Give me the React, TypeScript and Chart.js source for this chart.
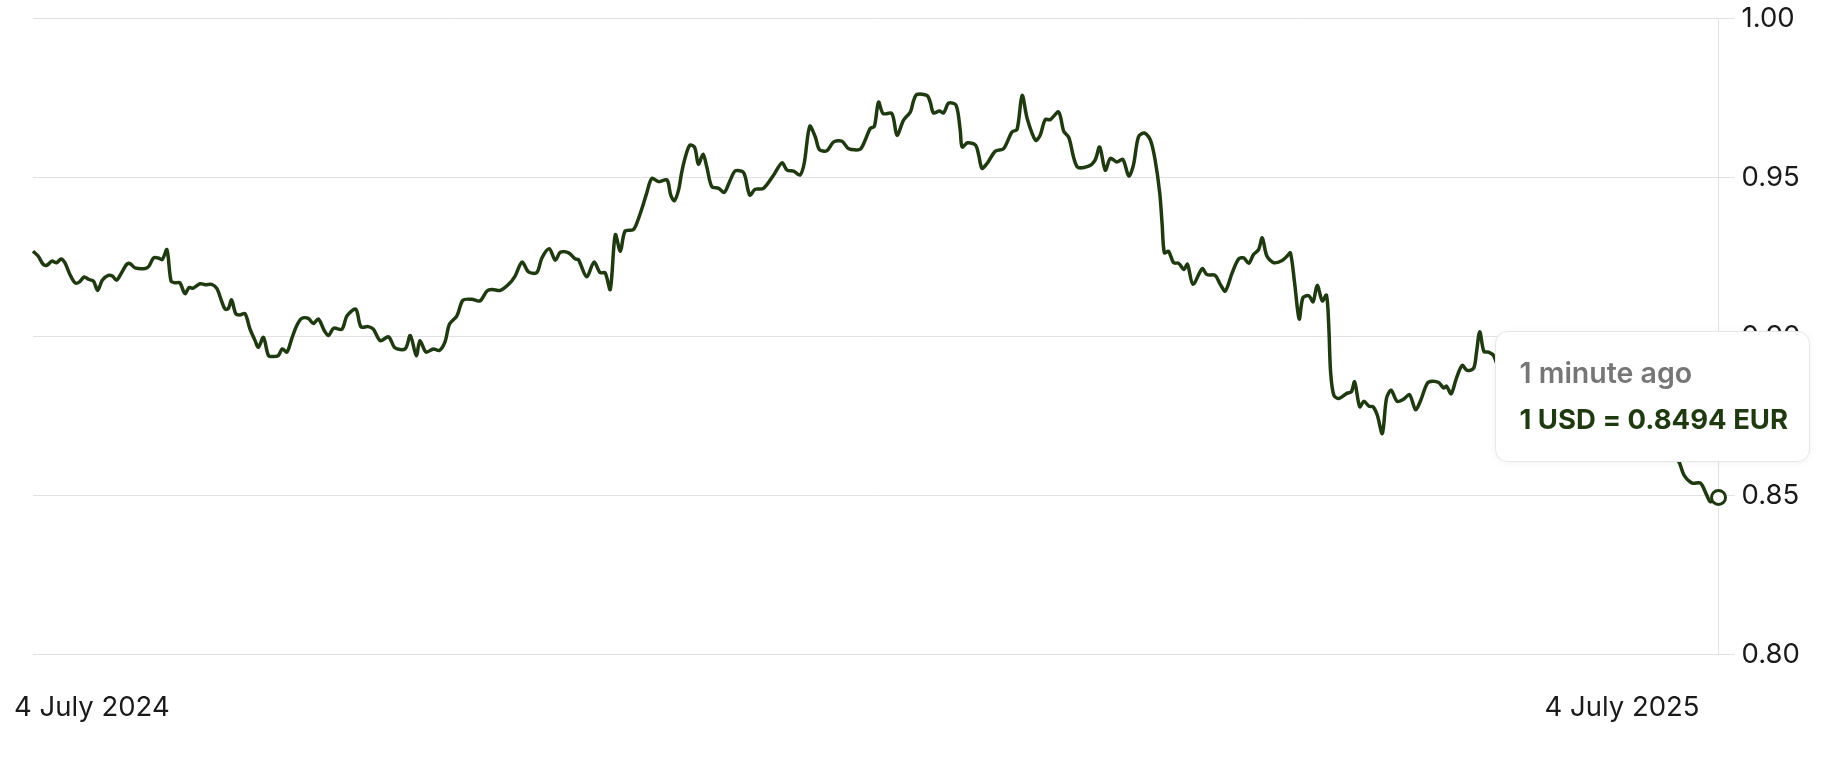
import React, { useEffect, useRef } from "react";
import { Chart, registerables } from "chart.js";

Chart.register(...registerables);

// Days since 4 July 2024
const dayOffsets = [
  0, 1.1, 2.2, 3.0, 4.1, 5.1, 6.1, 6.9, 8.0, 9.1, 10.0, 11.1, 12.0, 13.1, 14.0, 15.0, 16.3, 17.2, 18.1, 19.2,
  20.3, 21.0, 22.1, 24.3, 25.1, 26.1, 27.1, 28.0, 29.0, 29.9, 30.8, 31.8, 32.9, 33.8, 34.7, 36.2, 37.3, 38.7, 39.8, 40.9,
  41.6, 42.3, 43.0, 43.9, 44.8, 45.9, 47.0, 48.1, 48.8, 49.9, 51.0, 52.1, 53.1, 54.0, 55.0, 56.0, 57.1, 58.2, 59.6, 60.7,
  61.8, 63.1, 64.0, 65.1, 66.9, 68.0, 69.9, 71.0, 72.6, 73.7, 75.2, 77.0, 78.4, 80.6, 81.7, 83.0, 83.8, 85.1, 86.7, 88.0,
  89.2, 90.2, 91.8, 93.1, 95.0, 96.8, 98.3, 99.4, 101.2, 103.0, 104.4, 105.9, 107.3, 109.1, 110.2, 111.8, 113.1, 114.2, 116.0, 117.4,
  118.1, 119.9, 121.5, 122.8, 123.9, 125.0, 126.1, 127.2, 128.2, 130.0, 130.9, 131.9, 132.9, 134.0, 135.5, 137.3, 138.1, 138.9, 139.8, 140.5,
  141.5, 142.3, 143.3, 144.1, 145.1, 145.9, 147.0, 148.5, 149.7, 151.0, 152.1, 153.9, 155.2, 156.4, 158.2, 160.4, 162.2, 163.3, 164.7, 166.1,
  167.0, 168.2, 169.4, 170.3, 171.9, 173.4, 175.2, 176.6, 179.1, 180.2, 181.3, 182.2, 183.1, 184.1, 186.0, 187.1, 188.5, 190.0, 190.7, 191.4,
  193.6, 194.3, 195.0, 196.3, 197.2, 198.3, 199.9, 200.8, 201.2, 202.4, 204.1, 204.8, 205.5, 206.6, 208.4, 210.2, 212.0, 213.1, 214.2, 215.3,
  217.1, 218.1, 219.2, 220.3, 222.1, 223.2, 224.3, 226.1, 228.6, 230.0, 231.0, 232.2, 233.3, 234.7, 236.0, 237.3, 238.3, 239.4, 240.7, 242.0,
  243.0, 244.0, 244.5, 245.0, 245.9, 247.0, 248.1, 249.2, 250.0, 251.2, 253.2, 254.2, 256.0, 257.1, 258.2, 259.7, 261.1, 262.2, 263.3, 264.3,
  265.4, 266.2, 267.2, 268.7, 270.5, 271.6, 272.3, 273.2, 274.2, 275.0, 276.3, 277.2, 278.1, 279.2, 280.1, 280.6, 281.0, 281.7, 282.8, 284.6,
  285.5, 286.2, 287.3, 288.2, 289.3, 290.2, 291.1, 292.2, 293.1, 294.1, 295.4, 296.8, 298.1, 299.4, 300.5, 301.9, 303.0, 304.4, 305.5, 306.1,
  307.1, 308.2, 309.5, 310.6, 312.0, 312.6, 313.3, 314.2, 315.2, 316.3, 317.8, 319.5, 321.2, 323.2, 325.4, 327.5, 329.7, 331.9, 334.0, 336.2,
  338.4, 340.5, 342.7, 344.9, 347.0, 349.2, 351.4, 353.5, 355.0, 356.4, 357.5, 359.3, 361.1, 362.4, 363.3, 365.0,
];

// 1 USD in EUR
const rates = [
  0.9268, 0.9253, 0.9227, 0.9224, 0.9237, 0.9232, 0.9244, 0.9232, 0.9195, 0.9169, 0.9171, 0.9187, 0.918, 0.9174, 0.9145, 0.9177, 0.9192, 0.919, 0.9177, 0.9201,
  0.9227, 0.9229, 0.9216, 0.9214, 0.9221, 0.9247, 0.9247, 0.9242, 0.9273, 0.9174, 0.9169, 0.9169, 0.9135, 0.9154, 0.9152, 0.9166, 0.9163, 0.9164, 0.9151, 0.9109,
  0.9086, 0.9088, 0.9115, 0.9072, 0.9068, 0.9072, 0.9023, 0.8987, 0.8966, 0.8997, 0.894, 0.8937, 0.894, 0.8961, 0.8951, 0.8992, 0.9034, 0.9057, 0.9057, 0.9041,
  0.9055, 0.9018, 0.9003, 0.9026, 0.9023, 0.9065, 0.9086, 0.9031, 0.9031, 0.9023, 0.8987, 0.8999, 0.8964, 0.8961, 0.9003, 0.894, 0.8987, 0.8951, 0.8961, 0.8956,
  0.8982, 0.9039, 0.9065, 0.9114, 0.9117, 0.9112, 0.9143, 0.9148, 0.9145, 0.9164, 0.919, 0.9234, 0.9203, 0.9201, 0.9247, 0.9276, 0.924, 0.9265, 0.9263, 0.9244,
  0.9242, 0.9188, 0.9234, 0.9201, 0.92, 0.9148, 0.932, 0.9268, 0.9331, 0.9336, 0.9362, 0.9404, 0.9451, 0.9497, 0.9487, 0.9492, 0.9445, 0.9427, 0.9461, 0.9518,
  0.9576, 0.9602, 0.9594, 0.9542, 0.9573, 0.9534, 0.9471, 0.9466, 0.9453, 0.9492, 0.9521, 0.9515, 0.9445, 0.9463, 0.9466, 0.9508, 0.9546, 0.9523, 0.952, 0.9508,
  0.9544, 0.9661, 0.9628, 0.9588, 0.9584, 0.9612, 0.9614, 0.9591, 0.9589, 0.9617, 0.9654, 0.9661, 0.9737, 0.9701, 0.9701, 0.9633, 0.968, 0.9706, 0.9742, 0.9761,
  0.9758, 0.9737, 0.9703, 0.9709, 0.9703, 0.9734, 0.9727, 0.9648, 0.9596, 0.9609, 0.9602, 0.957, 0.9529, 0.9544, 0.9583, 0.9591, 0.9643, 0.9651, 0.9758, 0.9685,
  0.9617, 0.9633, 0.9682, 0.9682, 0.9706, 0.9646, 0.9626, 0.9534, 0.9536, 0.9555, 0.9596, 0.9523, 0.956, 0.9549, 0.9557, 0.9505, 0.9539, 0.9628, 0.964, 0.9617,
  0.9555, 0.9451, 0.9357, 0.9263, 0.9268, 0.9232, 0.923, 0.9211, 0.9227, 0.9164, 0.9213, 0.9195, 0.9192, 0.9164, 0.9143, 0.9201, 0.9244, 0.9247, 0.923, 0.9258,
  0.9273, 0.931, 0.9253, 0.9232, 0.9239, 0.9253, 0.9263, 0.9169, 0.9055, 0.9122, 0.9128, 0.9109, 0.9161, 0.9112, 0.913, 0.9034, 0.8888, 0.8815, 0.8805, 0.8822,
  0.8826, 0.8857, 0.8779, 0.8796, 0.8781, 0.8779, 0.8753, 0.8695, 0.8805, 0.8831, 0.8796, 0.8803, 0.8817, 0.877, 0.8799, 0.8852, 0.8859, 0.8855, 0.8838, 0.8844,
  0.882, 0.8867, 0.8909, 0.8893, 0.8901, 0.8951, 0.9015, 0.8953, 0.8951, 0.894, 0.888, 0.883, 0.885, 0.88, 0.877, 0.879, 0.876, 0.872, 0.874, 0.87,
  0.868, 0.869, 0.866, 0.868, 0.87, 0.867, 0.864, 0.865, 0.8625, 0.8607, 0.8565, 0.8539, 0.8539, 0.8503, 0.848, 0.8494,
];

const xTickDays = [0, 365];
const xTickLabels = ["4 July 2024", "4 July 2025"];
const yMin = 0.8;
const yMax = 1.0;
const yStep = 0.05;
const tooltipTitle = "1 minute ago";
const tooltipLabel = "1 USD = 0.8494 EUR";

const LINE_COLOR = "#1f3a10";
const GRID_COLOR = "#e2e2e2";
const TEXT_COLOR = "#1a1a1a";
const FONT = "Inter";

const fixedTooltip = {
  id: "fixedTooltip",
  afterDraw(chart: any) {
    const meta = chart.getDatasetMeta(0);
    const pt = meta.data[meta.data.length - 1];
    if (!pt) return;
    const ctx = chart.ctx as CanvasRenderingContext2D;
    const w = 314;
    const h = 130;
    const x = Math.round(pt.x - 224) + 0.5;
    const y = Math.round(pt.y - 36 - h) + 0.5;
    ctx.save();
    ctx.shadowColor = "rgba(0,0,0,0.05)";
    ctx.shadowBlur = 8;
    ctx.shadowOffsetY = 1;
    ctx.beginPath();
    (ctx as any).roundRect(x, y, w, h, 12);
    ctx.fillStyle = "#ffffff";
    ctx.fill();
    ctx.shadowColor = "transparent";
    ctx.strokeStyle = "#e6e6e6";
    ctx.lineWidth = 1;
    ctx.stroke();
    ctx.textAlign = "left";
    ctx.textBaseline = "alphabetic";
    ctx.font = `600 28.5px ${FONT}`;
    ctx.fillStyle = "#767676";
    ctx.fillText(tooltipTitle, x + 24, y + 51);
    ctx.font = `700 27.5px ${FONT}`;
    ctx.fillStyle = LINE_COLOR;
    ctx.fillText(tooltipLabel, x + 24, y + 97);
    ctx.restore();
  },
};

export default function App() {
  const canvasRef = useRef<HTMLCanvasElement | null>(null);

  useEffect(() => {
    if (!canvasRef.current) return;
    const points = dayOffsets.map((d, i) => ({ x: d, y: rates[i] }));
    const last = points.length - 1;
    const chart = new Chart(canvasRef.current, {
      type: "line",
      data: {
        datasets: [
          {
            data: points,
            borderColor: LINE_COLOR,
            borderWidth: 3.5,
            tension: 0.3,
            fill: false,
            clip: false as any,
            pointRadius: (c: any) => (c.dataIndex === last ? 7 : 0),
            pointHoverRadius: (c: any) => (c.dataIndex === last ? 7 : 0),
            pointBorderWidth: 3,
            pointBackgroundColor: "#ffffff",
            pointBorderColor: LINE_COLOR,
          },
        ],
      },
      options: {
        animation: false,
        responsive: false,
        events: [],
        layout: { padding: { left: 33, top: 18.5, right: 0, bottom: 0 } },
        plugins: { legend: { display: false }, tooltip: { enabled: false } },
        scales: {
          x: {
            type: "linear",
            min: xTickDays[0],
            max: xTickDays[xTickDays.length - 1],
            afterBuildTicks: (scale: any) => {
              scale.ticks = xTickDays.map((v) => ({ value: v }));
            },
            afterFit: (scale: any) => {
              scale.height = 107.5;
            },
            grid: { display: false, drawTicks: true, tickLength: 30 },
            border: { display: false },
            ticks: {
              autoSkip: false,
              maxRotation: 0,
              align: "inner",
              labelOffset: -19,
              padding: 7,
              color: TEXT_COLOR,
              font: { family: FONT, size: 27.5 },
              callback: (v: any) => {
                const idx = xTickDays.indexOf(Number(v));
                return idx >= 0 ? xTickLabels[idx] : "";
              },
            },
          },
          y: {
            position: "right",
            min: yMin,
            max: yMax,
            afterFit: (scale: any) => {
              scale.width = 129.5;
            },
            grid: { color: GRID_COLOR, lineWidth: 1, tickLength: 16, drawTicks: true },
            border: { display: true, color: GRID_COLOR, width: 1 },
            ticks: {
              stepSize: yStep,
              padding: 7,
              color: TEXT_COLOR,
              font: { family: FONT, size: 27.5, lineHeight: 0.8 },
              callback: (v: any) => Number(v).toFixed(2),
            },
          },
        },
      },
      plugins: [fixedTooltip],
    });
    return () => chart.destroy();
  }, []);

  return (
    <div style={{ position: "fixed", left: 0, top: 0, width: 1848, height: 762, background: "#ffffff" }}>
      <canvas ref={canvasRef} width={1848} height={762} style={{ display: "block", width: 1848, height: 762 }} />
    </div>
  );
}
